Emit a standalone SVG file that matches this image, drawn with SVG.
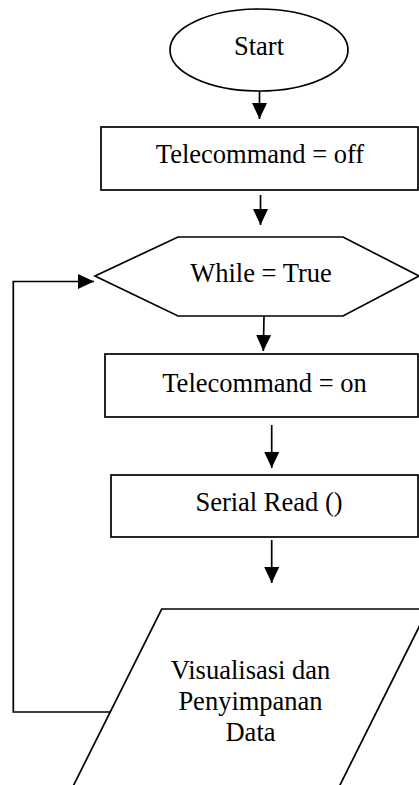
<svg xmlns="http://www.w3.org/2000/svg" width="419" height="785" viewBox="0 0 419 785">
<style>
.s{fill:#fff;stroke:#000;stroke-width:1.7}
.c{fill:none;stroke:#000;stroke-width:1.7}
.t{font-family:"Liberation Serif","Times New Roman",serif;font-size:26.5px;fill:#000;text-anchor:middle}
</style>
<defs>
<marker id="ah" markerUnits="userSpaceOnUse" markerWidth="16" markerHeight="15" refX="16" refY="7.5" orient="auto">
<path d="M0,0 L16,7.5 L0,15 z" fill="#000"/>
</marker>
</defs>
<rect width="419" height="785" fill="#fff"/>
<g id="start">
<ellipse class="s" cx="259" cy="50" rx="89" ry="41"/>
<text class="t" x="259" y="55">Start</text>
</g>
<g id="tc-off">
<rect class="s" x="101" y="127" width="317" height="63"/>
<text class="t" x="260" y="163">Telecommand = off</text>
</g>
<g id="while">
<polygon class="s" points="95,276 178,237 343,237 419,276 343,316 178,316"/>
<text class="t" x="261" y="282">While = True</text>
</g>
<g id="tc-on">
<rect class="s" x="105" y="354" width="313" height="63"/>
<text class="t" x="264.5" y="392">Telecommand = on</text>
</g>
<g id="serial">
<rect class="s" x="111" y="475" width="307" height="62"/>
<text class="t" x="269" y="511">Serial Read ()</text>
</g>
<g id="visual">
<polygon class="s" points="161.7,609 428,609 332.5,800 66.2,800"/>
<text class="t" x="250.5" y="679">Visualisasi dan</text>
<text class="t" x="250.5" y="710">Penyimpanan</text>
<text class="t" x="250.5" y="741">Data</text>
</g>
<g id="connectors">
<line class="c" x1="259.5" y1="91" x2="259.5" y2="119" marker-end="url(#ah)"/>
<line class="c" x1="260.5" y1="195" x2="260.5" y2="225" marker-end="url(#ah)"/>
<line class="c" x1="264" y1="316" x2="263.3" y2="351" marker-end="url(#ah)"/>
<line class="c" x1="271.7" y1="425" x2="271.7" y2="468" marker-end="url(#ah)"/>
<line class="c" x1="271.7" y1="540" x2="271.7" y2="583" marker-end="url(#ah)"/>
<polyline class="c" points="110,712 13.3,712 13.3,281.5 94,281.5" marker-end="url(#ah)"/>
</g>
</svg>
